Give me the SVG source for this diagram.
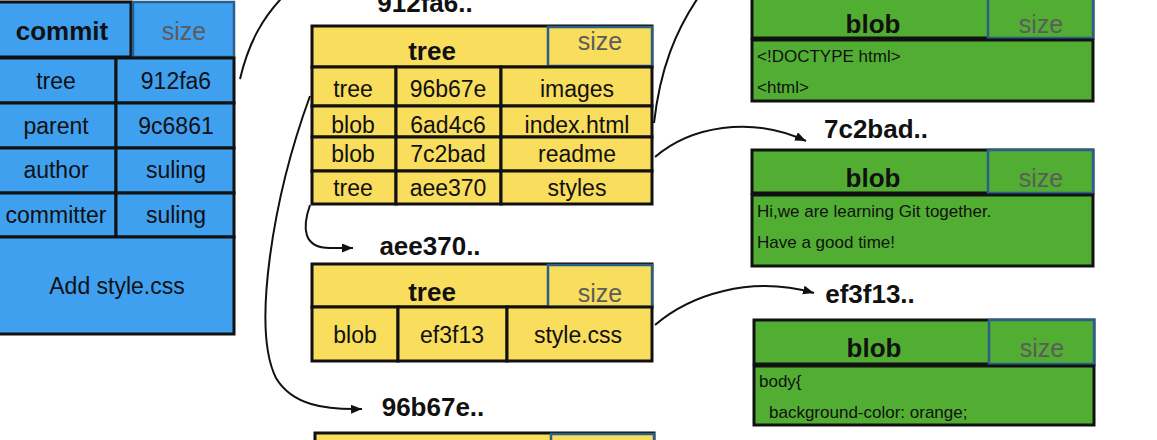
<svg xmlns="http://www.w3.org/2000/svg" width="1157" height="440" viewBox="0 0 1157 440">
<defs>
<style>
text{font-family:"Liberation Sans",Arial,sans-serif;fill:#111;}
.b{font-weight:bold;font-size:26px;text-anchor:middle;}
.s{font-size:25px;text-anchor:middle;fill:#5c5c5c;}
.r{font-size:23px;text-anchor:middle;}
.c{font-size:17px;}
.blue{fill:#3FA0F0;stroke:#111;stroke-width:3;}
.blues{fill:#3FA0F0;stroke:#2a5f8c;stroke-width:2.5;}
.yel{fill:#F9DD5C;stroke:#111;stroke-width:3;}
.yels{fill:#F9DD5C;stroke:#2a5f8c;stroke-width:2.5;}
.grn{fill:#52AE32;stroke:#111;stroke-width:3;}
.grns{fill:#52AE32;stroke:#2a5f8c;stroke-width:2.5;}
.con{fill:none;stroke:#111;stroke-width:2;}
</style>
<marker id="ah" markerUnits="userSpaceOnUse" markerWidth="12" markerHeight="10" refX="11" refY="4.5" orient="auto">
<path d="M0,0 L11,4.5 L0,9 z" fill="#111"/>
</marker>
</defs>
<rect x="0" y="0" width="1157" height="440" fill="#fff"/>

<g id="commit">
<rect class="blue" x="-5" y="2" width="136" height="55"/>
<rect class="blues" x="133" y="2" width="101" height="55"/>
<rect class="blue" x="-5" y="58" width="121" height="45"/>
<rect class="blue" x="116" y="58" width="118" height="45"/>
<rect class="blue" x="-5" y="103" width="121" height="45"/>
<rect class="blue" x="116" y="103" width="118" height="45"/>
<rect class="blue" x="-5" y="148" width="121" height="45"/>
<rect class="blue" x="116" y="148" width="118" height="45"/>
<rect class="blue" x="-5" y="193" width="121" height="44"/>
<rect class="blue" x="116" y="193" width="118" height="44"/>
<rect class="blue" x="-5" y="237" width="239" height="97"/>
<text class="b" x="62" y="40">commit</text>
<text class="s" x="184" y="40">size</text>
<text class="r" x="56" y="89">tree</text>
<text class="r" x="176" y="89">912fa6</text>
<text class="r" x="56" y="134">parent</text>
<text class="r" x="176" y="134">9c6861</text>
<text class="r" x="56" y="178">author</text>
<text class="r" x="176" y="178">suling</text>
<text class="r" x="56" y="223">committer</text>
<text class="r" x="176" y="223">suling</text>
<text class="r" x="117" y="294">Add style.css</text>
</g>

<g id="tree-912fa6">
<text class="b" x="425" y="12">912fa6..</text>
<rect class="yel" x="312" y="26" width="340" height="41"/>
<rect class="yels" x="548" y="27" width="104" height="39"/>
<rect class="yel" x="312" y="67" width="84" height="39"/>
<rect class="yel" x="396" y="67" width="105" height="39"/>
<rect class="yel" x="501" y="67" width="151" height="39"/>
<rect class="yel" x="312" y="106" width="84" height="31"/>
<rect class="yel" x="396" y="106" width="105" height="31"/>
<rect class="yel" x="501" y="106" width="151" height="31"/>
<rect class="yel" x="312" y="137" width="84" height="34"/>
<rect class="yel" x="396" y="137" width="105" height="34"/>
<rect class="yel" x="501" y="137" width="151" height="34"/>
<rect class="yel" x="312" y="171" width="84" height="33"/>
<rect class="yel" x="396" y="171" width="105" height="33"/>
<rect class="yel" x="501" y="171" width="151" height="33"/>
<text class="b" x="432" y="60">tree</text>
<text class="s" x="600" y="50">size</text>
<text class="r" x="353" y="97">tree</text>
<text class="r" x="448" y="97">96b67e</text>
<text class="r" x="577" y="97">images</text>
<text class="r" x="353" y="133">blob</text>
<text class="r" x="448" y="133">6ad4c6</text>
<text class="r" x="577" y="133">index.html</text>
<text class="r" x="353" y="162">blob</text>
<text class="r" x="448" y="162">7c2bad</text>
<text class="r" x="577" y="162">readme</text>
<text class="r" x="353" y="196">tree</text>
<text class="r" x="448" y="196">aee370</text>
<text class="r" x="577" y="196">styles</text>
</g>

<g id="tree-aee370">
<text class="b" x="430" y="255">aee370..</text>
<rect class="yel" x="312" y="264" width="340" height="43"/>
<rect class="yels" x="548" y="265" width="104" height="42"/>
<rect class="yel" x="312" y="307" width="86" height="54"/>
<rect class="yel" x="398" y="307" width="109" height="54"/>
<rect class="yel" x="507" y="307" width="145" height="54"/>
<text class="b" x="432" y="301">tree</text>
<text class="s" x="600" y="302">size</text>
<text class="r" x="355" y="343">blob</text>
<text class="r" x="452" y="343">ef3f13</text>
<text class="r" x="578" y="343">style.css</text>
</g>

<g id="tree-96b67e">
<text class="b" x="433" y="416">96b67e..</text>
<rect class="yel" x="315" y="433" width="339" height="40"/>
<rect class="yels" x="551" y="434" width="103" height="39"/>
</g>

<g id="blob-6ad4c6">
<rect class="grn" x="752" y="-5" width="341" height="43"/>
<rect class="grns" x="988" y="-5" width="105" height="43"/>
<rect class="grn" x="752" y="40" width="341" height="61"/>
<text class="b" x="873" y="33">blob</text>
<text class="s" x="1041" y="33">size</text>
<text class="c" x="757" y="62">&lt;!DOCTYPE html&gt;</text>
<text class="c" x="757" y="93">&lt;html&gt;</text>
</g>

<g id="blob-7c2bad">
<text class="b" x="876" y="138">7c2bad..</text>
<rect class="grn" x="752" y="150" width="341" height="43"/>
<rect class="grns" x="988" y="150" width="105" height="43"/>
<rect class="grn" x="752" y="195" width="341" height="71"/>
<text class="b" x="873" y="187">blob</text>
<text class="s" x="1041" y="187">size</text>
<text class="c" x="757" y="217">Hi,we are learning Git together.</text>
<text class="c" x="757" y="248">Have a good time!</text>
</g>

<g id="blob-ef3f13">
<text class="b" x="870" y="303">ef3f13..</text>
<rect class="grn" x="754" y="320" width="340" height="44"/>
<rect class="grns" x="989" y="320" width="105" height="44"/>
<rect class="grn" x="754" y="366" width="340" height="59"/>
<text class="b" x="874" y="357">blob</text>
<text class="s" x="1042" y="357">size</text>
<text class="c" x="759" y="387">body{</text>
<text class="c" x="769" y="418">background-color: orange;</text>
</g>

<g id="connectors">
<path class="con" d="M240,79 C248,45 262,15 292,-12"/>
<path class="con" d="M654,123 C660,70 675,30 702,-8"/>
<path class="con" d="M310,96 C272,200 252,330 276,378 C292,405 325,410 362,409" marker-end="url(#ah)"/>
<path class="con" d="M310,205 C302,228 303,248 330,248 L353,248" marker-end="url(#ah)"/>
<path class="con" d="M655,157 C690,127 750,115 806,141" marker-end="url(#ah)"/>
<path class="con" d="M655,325 C690,295 750,275 814,293" marker-end="url(#ah)"/>
</g>
</svg>
